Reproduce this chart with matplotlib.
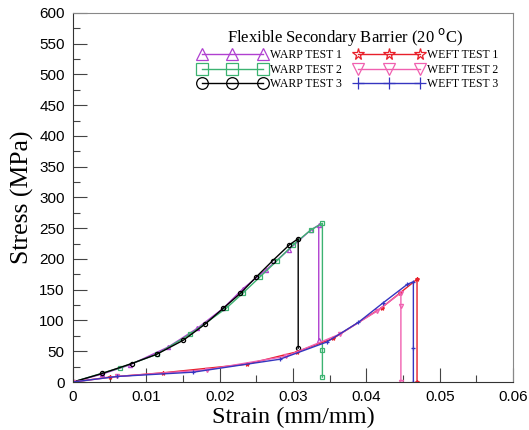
import numpy as np
import matplotlib.pyplot as plt
from matplotlib.ticker import MultipleLocator, FuncFormatter

# Data (strain mm/mm, stress MPa)
warp1_strain = [0, 0.004, 0.0078, 0.013, 0.0169, 0.0205, 0.0232, 0.0263, 0.0294, 0.0324, 0.0335, 0.0335]
warp1_stress = [0, 13, 28, 57, 87, 120, 152, 182, 215, 247, 255, 68]

warp2_strain = [0, 0.0064, 0.0114, 0.016, 0.0209, 0.0232, 0.0255, 0.0278, 0.030, 0.0324, 0.034, 0.034, 0.034]
warp2_stress = [0, 23, 45, 78, 120, 145, 171, 197, 223, 247, 258, 52, 8]

warp3_strain = [0, 0.004, 0.008, 0.0114, 0.01505, 0.018, 0.0205, 0.0228, 0.025, 0.0272, 0.0295, 0.0307, 0.0307]
warp3_stress = [0, 14, 30, 45, 68, 94, 120, 144, 171, 197, 223, 233, 55]

weft1_strain = [0, 0.005, 0.0123, 0.0237, 0.0305, 0.0355, 0.0421, 0.0446, 0.0469, 0.0469]
weft1_stress = [0, 8, 15, 29, 49, 71, 121, 145, 167, 0]

weft2_strain = [0, 0.006, 0.0182, 0.0291, 0.0364, 0.0414, 0.0447, 0.0447, 0.0447]
weft2_stress = [0, 9, 20, 42, 78, 115, 145, 124, 0]

weft3_strain = [0, 0.006, 0.0164, 0.0282, 0.0346, 0.0389, 0.0422, 0.0456, 0.0464, 0.0464, 0.0464]
weft3_stress = [0, 9, 16, 37, 65, 97, 128, 159, 163, 56, 0]

series = [
    (warp1_strain, warp1_stress, "WARP TEST 1", "#b040d0", "^"),
    (warp2_strain, warp2_stress, "WARP TEST 2", "#3cb371", "s"),
    (warp3_strain, warp3_stress, "WARP TEST 3", "black", "o"),
    (weft1_strain, weft1_stress, "WEFT TEST 1", "#e8202a", "*"),
    (weft2_strain, weft2_stress, "WEFT TEST 2", "#f060b0", "v"),
    (weft3_strain, weft3_stress, "WEFT TEST 3", "#3535c0", "+"),
]

fig = plt.figure(figsize=(5.29, 4.30), dpi=100)
ax = fig.add_axes([0.138, 0.1116, 0.832, 0.8584])

for x, y, lab, c, m in series:
    ax.plot(x, y, color=c, lw=1.0, marker=m, ms=3, mfc="none", mec=c, mew=0.9, label=lab)

ax.set_xlim(0, 0.06)
ax.set_ylim(0, 600)
ax.xaxis.set_major_locator(MultipleLocator(0.01))
ax.xaxis.set_minor_locator(MultipleLocator(0.005))
ax.yaxis.set_major_locator(MultipleLocator(50))
ax.yaxis.set_minor_locator(MultipleLocator(25))
ax.xaxis.set_major_formatter(FuncFormatter(lambda v, p: "0" if abs(v) < 1e-9 else f"{v:.2f}"))
ax.tick_params(which="major", direction="in", length=10, width=0.8, color="#444",
               labelsize=11, pad=6)
ax.tick_params(which="minor", direction="in", length=5, width=0.8, color="#444")
for t in ax.get_xticklabels() + ax.get_yticklabels():
    t.set_fontfamily("Liberation Sans")

for s in ["left", "bottom"]:
    ax.spines[s].set_color("#333")
for s in ["top", "right"]:
    ax.spines[s].set_color("#888")

ax.set_xlabel("Strain (mm/mm)", family="Liberation Serif", fontsize=17.5, labelpad=2)
ax.set_ylabel("Stress (MPa)", family="Liberation Serif", fontsize=18.5, labelpad=4)

ax.text(0.618, 0.935, "Flexible Secondary Barrier (20 $^{\\rm o}$C)", transform=ax.transAxes,
        ha="center", va="center", family="Liberation Serif", fontsize=12)

ax.legend(ncol=2, loc="upper left", bbox_to_anchor=(0.26, 0.93), frameon=False,
          numpoints=3, handlelength=5.8, markerscale=2.8, columnspacing=1.1,
          handletextpad=0.3, labelspacing=0.2,
          prop={"family": "Liberation Serif", "size": 8.5})

fig.savefig("out.png", dpi=100)
